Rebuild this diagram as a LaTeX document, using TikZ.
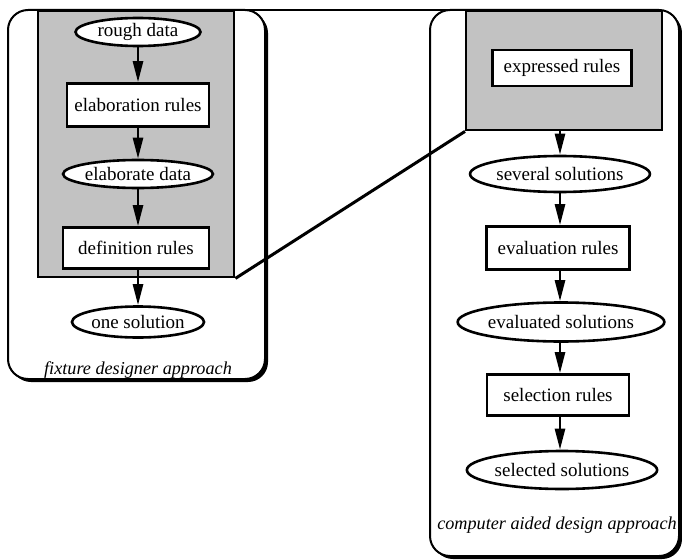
\documentclass[tikz,border=0pt]{standalone}
\usepackage{fontspec}
\setmainfont{Liberation Serif}
\usetikzlibrary{shapes.geometric,arrows.meta}
\begin{document}
\begin{tikzpicture}[x=1pt,y=-1pt,
  every node/.style={font=\fontsize{19}{21}\selectfont},
  panel/.style={draw=black,line width=2pt,fill=white,rounded corners=20pt},
  panelshadow/.style={fill=black,rounded corners=20pt},
  zoomzone/.style={draw=black,line width=2.4pt,fill=black!24,rectangle,inner sep=0pt,anchor=north west},
  rulebox/.style={draw=black,line width=2.6pt,fill=white,rectangle,inner sep=0pt},
  dataell/.style={draw=black,line width=2.6pt,fill=white,ellipse,inner sep=0pt},
  flow/.style={line width=2.6pt,-{Triangle[length=21pt,width=10pt]}},
  link/.style={line width=3pt},
  toplink/.style={line width=1.5pt},
  caption/.style={font=\fontsize{18.2}{20}\selectfont\itshape}
]
\useasboundingbox (0,0) rectangle (682,559);

% panels with drop shadows
\fill[panelshadow] (11,13) rectangle (268,382);
\draw[panel] (8,10) rectangle (265,379);
\fill[panelshadow] (433,13) rectangle (682,559);
\draw[panel] (430,10) rectangle (679,556);

% shaded zones
\node[zoomzone,minimum width=196pt,minimum height=266pt] (zoneL) at (37,10) {};
\node[zoomzone,minimum width=196pt,minimum height=119pt] (zoneR) at (465,10) {};

% links between the zones
\draw[toplink] (zoneL.north east) -- (zoneR.north west);
\draw[link] (zoneL.south east) -- (zoneR.south west);

% fixture designer approach
\node[dataell,minimum width=125pt,minimum height=28pt] (rough) at (138,32) {rough data};
\node[rulebox,minimum width=142pt,minimum height=43pt] (elabrules) at (138,105) {elaboration rules};
\node[dataell,minimum width=123pt,minimum height=28pt] (elabdata) at (138,174) {elaborate data};
\node[rulebox,minimum width=146pt,minimum height=41pt] (defrules) at (136,248) {definition rules};
\node[dataell,minimum width=126pt,minimum height=31pt] (onesol) at (138,322) {one solution};
\node[caption] (capL) at (138,370) {fixture designer approach};

\draw[flow] (rough.south) -- (rough.south |- elabrules.north);
\draw[flow] (elabrules.south -| rough.south) -- (rough.south |- elabdata.north);
\draw[flow] (elabdata.south) -- (elabdata.south |- defrules.north);
\draw[flow] (defrules.south -| onesol.north) -- (onesol.north);

% computer aided design approach
\node[rulebox,minimum width=139pt,minimum height=36pt] (exprules) at (562,68) {expressed rules};
\node[dataell,minimum width=131pt,minimum height=36pt] (several) at (560,174) {several solutions};
\node[rulebox,minimum width=143pt,minimum height=43pt] (evalrules) at (558,248) {evaluation rules};
\node[dataell,minimum width=160pt,minimum height=39pt] (evalsol) at (561,322) {evaluated solutions};
\node[rulebox,minimum width=142pt,minimum height=41pt] (selrules) at (558,395) {selection rules};
\node[dataell,minimum width=160pt,minimum height=38pt] (selsol) at (562,470) {selected solutions};
\node[caption] (capR) at (557,525) {computer aided design approach};

\draw[flow] (zoneR.south -| several.north) -- (several.north);
\draw[flow] (several.south) -- (several.south |- evalrules.north);
\draw[flow] (evalrules.south -| several.south) -- (several.south |- evalsol.north);
\draw[flow] (evalsol.south -| several.south) -- (several.south |- selrules.north);
\draw[flow] (selrules.south -| several.south) -- (several.south |- selsol.north);
\end{tikzpicture}
\end{document}
